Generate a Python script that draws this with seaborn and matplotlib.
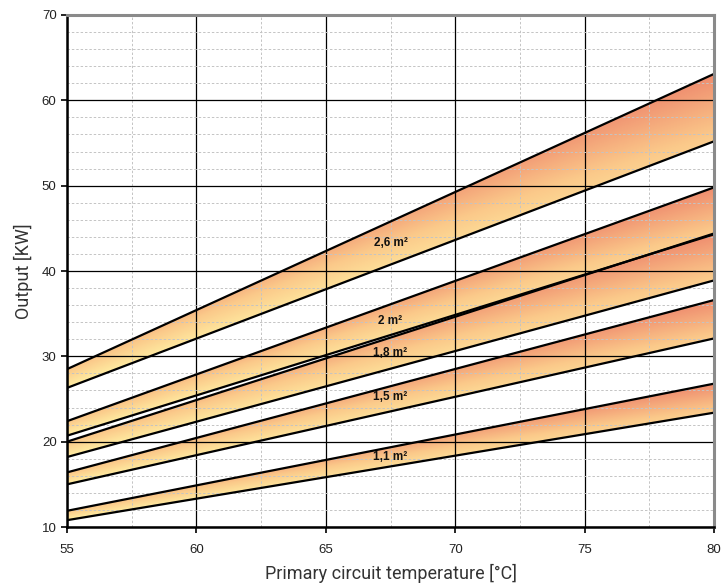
import matplotlib
matplotlib.use("Agg")
import matplotlib.pyplot as plt
from matplotlib.colors import LinearSegmentedColormap
from matplotlib.patches import Polygon
import numpy as np
import pandas as pd
import seaborn as sns

# band data: output [kW] at 55 and 80 °C, upper / lower edge of each band
areas = ['2,6 m²', '2 m²', '1,8 m²', '1,5 m²', '1,1 m²']
temps = [55, 80]
upper = [[28.5, 63.1], [22.4, 49.8], [20.0, 44.4], [16.4, 36.6], [11.9, 26.8]]
lower = [[26.3, 55.2], [20.7, 44.3], [18.2, 38.9], [15.0, 32.1], [10.8, 23.4]]
label_pos = [(67.5, 43.3), (67.5, 34.1), (67.5, 30.4), (67.5, 25.2), (67.5, 18.2)]

sns.set_style("white")
fig = plt.figure(figsize=(7.21, 5.88), dpi=100)
ax = fig.add_axes([0.0929, 0.1037, 0.8975, 0.8708])

cmap = LinearSegmentedColormap.from_list('warm', ['#FFEDA2', '#FBC98A', '#EF8D6F'])

xs = np.linspace(55, 80, 300)
ys = np.linspace(10, 70, 600)
X, Y = np.meshgrid(xs, ys)

rows = []
for name, up, lo in zip(areas, upper, lower):
    up_x = np.interp(X, temps, up)
    lo_x = np.interp(X, temps, lo)
    t = np.clip((Y - lo_x) / (up_x - lo_x), 0, 1)
    val = 0.55 * t + 0.45 * (X - 55) / 25
    im = ax.imshow(val, extent=[55, 80, 10, 70], origin='lower', cmap=cmap,
                   vmin=0, vmax=1, aspect='auto', zorder=1, interpolation='bilinear')
    poly = Polygon([[55, lo[0]], [80, lo[1]], [80, up[1]], [55, up[0]]],
                   closed=True, transform=ax.transData, facecolor='none', edgecolor='none')
    ax.add_patch(poly)
    im.set_clip_path(poly)
    for edge, vals in (('upper', up), ('lower', lo)):
        for tx, v in zip(temps, vals):
            rows.append({'line': name + edge, 'temp': tx, 'kw': v})

lines = pd.DataFrame(rows)
sns.lineplot(data=lines, x='temp', y='kw', hue='line',
             palette=['black'] * lines['line'].nunique(), linewidth=1.6,
             legend=False, ax=ax, zorder=4)

for name, (lx, ly) in zip(areas, label_pos):
    ax.text(lx, ly, name, ha='center', va='center', fontsize=8.5,
            fontweight='bold', family='Liberation Sans', color='#111111', zorder=5)

ax.set_xlim(55, 80)
ax.set_ylim(10, 70)
ax.set_xticks(np.arange(55, 81, 5))
ax.set_yticks(np.arange(10, 71, 10))
ax.set_xticks(np.arange(55, 80.1, 2.5), minor=True)
ax.set_yticks(np.arange(10, 70.1, 2), minor=True)
ax.grid(which='minor', color='#c4c4c4', linestyle=(0, (2.5, 2)), linewidth=0.7, zorder=2)
ax.grid(which='major', color='black', linestyle='-', linewidth=0.9, zorder=3)
ax.set_axisbelow(False)

for lab in ax.get_xticklabels() + ax.get_yticklabels():
    lab.set_family('Liberation Sans')
    lab.set_fontsize(9.5)
    lab.set_color('#222222')
ax.tick_params(axis='both', which='major', length=4, width=1.2, direction='out',
               bottom=True, left=True, color='black')
ax.tick_params(axis='x', pad=8)
ax.tick_params(which='minor', length=0)

ax.set_xlabel('Primary circuit temperature [°C]', fontsize=13, family='Roboto',
              color='#333333', labelpad=6)
ax.set_ylabel('Output [KW]', fontsize=13, family='Roboto',
              color='#333333', labelpad=6)

for side in ('left', 'bottom'):
    ax.spines[side].set_color('black')
    ax.spines[side].set_linewidth(1.8)
for side in ('top', 'right'):
    ax.spines[side].set_color('#8a8a8a')
    ax.spines[side].set_linewidth(2.2)
for s in ax.spines.values():
    s.set_zorder(6)

fig.savefig('out.png', dpi=100)
